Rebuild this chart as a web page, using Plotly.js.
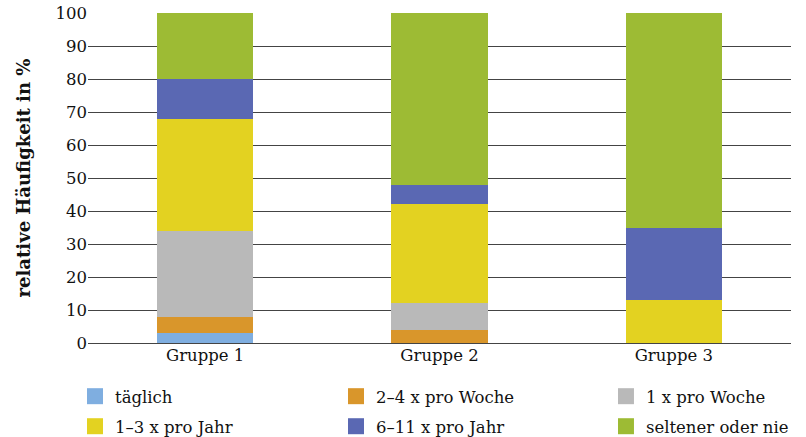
<!DOCTYPE html>
<html>
<head>
<meta charset="utf-8">
<script src="https://cdn.plot.ly/plotly-3.0.1.min.js"></script>
<style>html,body{margin:0;padding:0;background:#fff;}#chart{width:806px;height:437px;}</style>
</head>
<body>
<div id="chart"></div>
<script>
const categories = ["Gruppe 1", "Gruppe 2", "Gruppe 3"];
const seriesNames = ["täglich", "2–4 x pro Woche", "1 x pro Woche", "1–3 x pro Jahr", "6–11 x pro Jahr", "seltener oder nie"];
const taeglich = [3, 0, 0];
const proWoche24 = [5, 4, 0];
const proWoche1 = [26, 8, 0];
const proJahr13 = [34, 30, 13];
const proJahr611 = [12, 6, 22];
const seltener = [20, 52, 65];
const yTicks = [0, 10, 20, 30, 40, 50, 60, 70, 80, 90, 100];

const seriesValues = [taeglich, proWoche24, proWoche1, proJahr13, proJahr611, seltener];
const colors = ["#7FAEE0", "#D9962B", "#B9B9B9", "#E3D221", "#5A68B3", "#9DBB34"];
const legendIds = ["legend", "legend3", "legend5", "legend2", "legend4", "legend6"];

const FONT = "DejaVu Serif";
const TXT = "#111";
const barTraces = seriesValues.map((vals, i) => ({
  type: "bar",
  name: seriesNames[i],
  x: categories,
  y: vals,
  marker: {color: colors[i], line: {width: 0}},
  showlegend: false,
  hoverinfo: "none"
}));
// legend entries with larger square swatches
const legendTraces = seriesNames.map((name, i) => ({
  type: "scatter",
  mode: "markers",
  name: name,
  x: [null],
  y: [null],
  marker: {symbol: "square", size: 16, color: colors[i], line: {width: 0}},
  legend: legendIds[i],
  hoverinfo: "none"
}));

const colX = [-0.0185, 0.3528, 0.7368];
const rowY = [-0.162, -0.253];
function lg(col, row) {
  return {
    x: colX[col], y: rowY[row], xanchor: "left", yanchor: "middle",
    orientation: "v", bgcolor: "rgba(0,0,0,0)", borderwidth: 0,
    itemsizing: "trace",
    font: {family: FONT, size: 16.5, color: TXT}
  };
}

const layout = {
  width: 806, height: 437,
  margin: {l: 88, r: 15, t: 13, b: 94, autoexpand: false},
  paper_bgcolor: "#fff", plot_bgcolor: "#fff",
  barmode: "stack",
  bargap: 0.59,
  font: {family: FONT, size: 16.5, color: TXT},
  xaxis: {
    type: "category",
    showgrid: false, zeroline: false, showline: false, ticks: "",
    automargin: false,
    tickfont: {family: FONT, size: 16.5, color: TXT}
  },
  yaxis: {
    range: [0, 100],
    tickvals: yTicks,
    ticktext: yTicks.map(String),
    automargin: false,
    showgrid: true, gridcolor: "#444", gridwidth: 1,
    zeroline: true, zerolinecolor: "#444", zerolinewidth: 1,
    showline: false, ticks: "",
    tickfont: {family: FONT, size: 16.5, color: TXT},
    title: {text: "relative Häufigkeit in %", font: {family: FONT, size: 18, color: TXT, weight: "bold"}, standoff: 20}
  },
  showlegend: true,
  legend: lg(0, 0),
  legend2: lg(0, 1),
  legend3: lg(1, 0),
  legend4: lg(1, 1),
  legend5: lg(2, 0),
  legend6: lg(2, 1)
};

Plotly.newPlot("chart", barTraces.concat(legendTraces), layout, {displayModeBar: false, staticPlot: true});
</script>
</body>
</html>
